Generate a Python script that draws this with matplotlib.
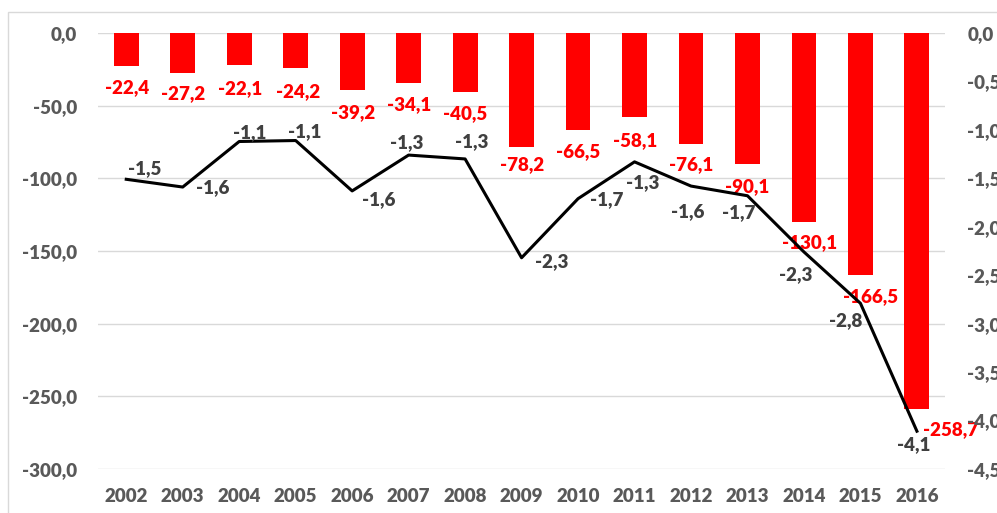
import matplotlib
matplotlib.use("Agg")
import matplotlib.pyplot as plt
from matplotlib.patches import Rectangle
from matplotlib.ticker import FixedLocator, FuncFormatter
import numpy as np

# ---------------------------------------------------------------------------
# Data
# ---------------------------------------------------------------------------

years = ["2002", "2003", "2004", "2005", "2006", "2007", "2008", "2009",
         "2010", "2011", "2012", "2013", "2014", "2015", "2016"]

bar_values = [-22.4, -27.2, -22.1, -24.2, -39.2, -34.1, -40.5, -78.2,
              -66.5, -58.1, -76.1, -90.1, -130.1, -166.5, -258.7]

line_values = [-1.51, -1.59, -1.12, -1.11, -1.63, -1.26, -1.30, -2.32,
               -1.71, -1.33, -1.58, -1.68, -2.26, -2.79, -4.11]

left_ticks = [0, -50, -100, -150, -200, -250, -300]
right_ticks = [0, -0.5, -1.0, -1.5, -2.0, -2.5, -3.0, -3.5, -4.0, -4.5]

# label offsets in pixels (dx, dy), dy positive = downwards on screen
bar_label_offsets = [(1, 22), (0, 21), (1, 23), (2, 23), (1, 23), (0, 22),
                     (0, 22), (1, 18), (0, 22), (1, 23), (0, 21), (0, 23),
                     (6, 21), (10, 22), (34, 21)]
line_label_offsets = [(18, -11), (30, 1), (10, -9), (9, -9), (27, 9),
                      (-2, -12), (7, -17), (30, 4), (29, 1), (8, 21),
                      (-3, 26), (-9, 17), (-8, 23), (-15, 17), (-3, 13)]

# ---------------------------------------------------------------------------
# Style
# ---------------------------------------------------------------------------

RED = "#ff0000"
TICK = "#595959"
LINE_LBL = "#404040"
GRID = "#d9d9d9"
FONT = ["Lato", "DejaVu Sans"]
WEIGHT = "heavy"

plt.rcParams["font.family"] = FONT
plt.rcParams["font.weight"] = WEIGHT


def comma(v, _pos=None):
    s = f"{v:.1f}".replace(".", ",")
    if s == "-0,0":
        s = "0,0"
    return s


fig = plt.figure(figsize=(9.97, 5.13), dpi=100, facecolor="white")
ax = fig.add_axes([0.0983, 0.0858, 0.8497, 0.8499])
ax2 = ax.twinx()

# outer chart frame (partly outside the visible picture)
fig.patches.append(Rectangle((8 / 997, -0.2), 1.2, 1.2 - 12 / 513,
                             transform=fig.transFigure, fill=False,
                             edgecolor=GRID, linewidth=1.0))

x = np.arange(len(years))

ax.bar(x, bar_values, width=0.44, color=RED, zorder=2)
ax.set_ylim(-300, 0)
ax.set_xlim(-0.5, len(years) - 0.5)
ax.yaxis.set_major_locator(FixedLocator(left_ticks))
ax.yaxis.set_major_formatter(FuncFormatter(comma))
ax.grid(axis="y", color=GRID, linewidth=1.0, zorder=0)
ax.set_axisbelow(True)
ax.set_xticks(x)
ax.set_xticklabels(years)
ax.tick_params(axis="y", length=0, pad=15, labelsize=13.5, labelcolor=TICK)
ax.tick_params(axis="x", length=0, pad=14, labelsize=13.5, labelcolor=TICK)

for i, (v, (dx, dy)) in enumerate(zip(bar_values, bar_label_offsets)):
    ax.annotate(comma(v), xy=(x[i], v), xytext=(dx, -dy),
                textcoords="offset pixels", ha="center", va="center",
                color=RED, fontsize=13.5, fontweight=WEIGHT, zorder=3)

ax2.plot(x, line_values, color="black", linewidth=2.2, zorder=4)
ax2.set_ylim(-4.5, 0)
ax2.yaxis.set_major_locator(FixedLocator(right_ticks))
ax2.yaxis.set_major_formatter(FuncFormatter(comma))
ax2.tick_params(axis="y", length=0, pad=16, labelsize=13.5, labelcolor=TICK)

for i, (v, (dx, dy)) in enumerate(zip(line_values, line_label_offsets)):
    ax2.annotate(comma(v), xy=(x[i], v), xytext=(dx, -dy),
                 textcoords="offset pixels", ha="center", va="center",
                 color=LINE_LBL, fontsize=13.5, fontweight=WEIGHT, zorder=5)

for a in (ax, ax2):
    for sp in a.spines.values():
        sp.set_visible(False)

fig.savefig("out.png", dpi=100, facecolor="white")
